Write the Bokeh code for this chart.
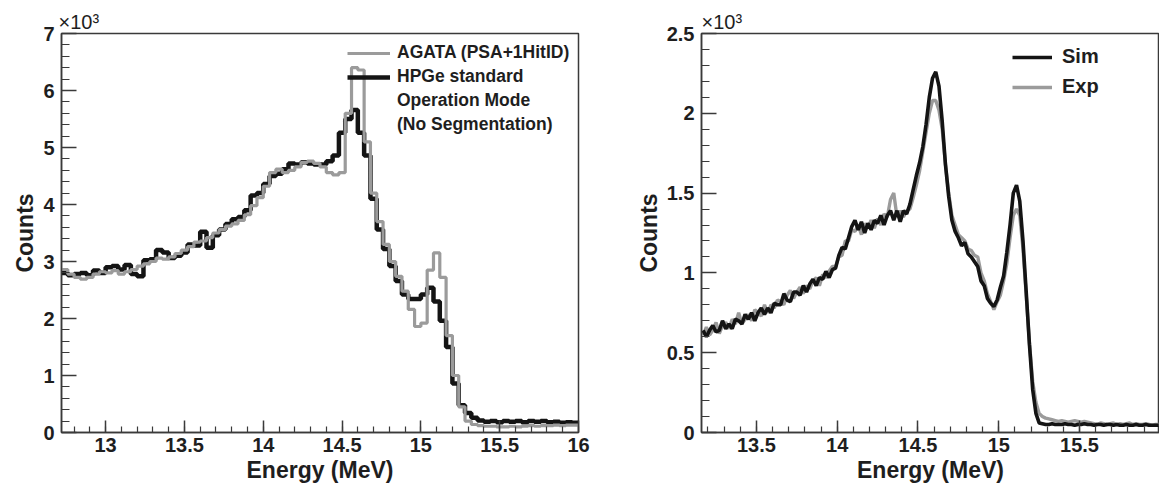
import numpy as np
from bokeh.plotting import figure
from bokeh.layouts import row
from bokeh.models import FixedTicker, Legend, LegendItem, Range1d
from bokeh.embed import file_html
from bokeh.resources import INLINE

# ---------------- data (counts in units of 10^3) ----------------
# Left panel: histograms, bins of 0.04 MeV starting at 12.72 MeV
left_bin_start = 12.72
left_bin_width = 0.04
agata_k = [2.86, 2.78, 2.72, 2.69, 2.72, 2.78, 2.82, 2.80, 2.84, 2.78,
           2.82, 2.86, 2.92, 2.96, 3.00, 3.06, 3.04, 3.08, 3.14, 3.20,
           3.26, 3.34, 3.36, 3.42, 3.50, 3.56, 3.62, 3.66, 3.72, 3.82,
           3.98, 4.12, 4.32, 4.56, 4.62, 4.56, 4.60, 4.66, 4.74, 4.76,
           4.72, 4.66, 4.56, 4.52, 4.56, 5.60, 6.40, 6.36, 5.10, 4.20,
           3.70, 3.30, 3.00, 2.74, 2.48, 2.16, 1.86, 1.92, 2.85, 3.15,
           2.72, 1.70, 1.00, 0.45, 0.20, 0.14, 0.12, 0.11, 0.11, 0.10,
           0.10, 0.11, 0.10, 0.11, 0.12, 0.11, 0.12, 0.12, 0.13, 0.12,
           0.13, 0.13]
hpge_k = [2.80, 2.76, 2.78, 2.80, 2.76, 2.84, 2.80, 2.90, 2.92, 2.86,
          2.94, 2.78, 2.74, 3.02, 3.04, 3.20, 3.16, 3.06, 3.10, 3.16,
          3.30, 3.28, 3.52, 3.24, 3.46, 3.56, 3.66, 3.74, 3.78, 3.90,
          4.16, 4.20, 4.36, 4.50, 4.54, 4.62, 4.72, 4.70, 4.74, 4.72,
          4.70, 4.70, 4.76, 4.86, 5.26, 5.50, 5.66, 5.26, 4.86, 4.10,
          3.56, 3.22, 2.92, 2.66, 2.42, 2.34, 2.34, 2.42, 2.54, 2.30,
          1.96, 1.50, 0.86, 0.48, 0.34, 0.26, 0.21, 0.19, 0.20, 0.18,
          0.20, 0.19, 0.20, 0.18, 0.20, 0.19, 0.20, 0.18, 0.19, 0.17,
          0.18, 0.17]

# Right panel: spectra sampled every 0.02 MeV, first point at 13.17 MeV
right_first = 13.17
right_step = 0.02
sim_k = [0.64, 0.60, 0.64, 0.67, 0.63, 0.64, 0.70, 0.65, 0.68, 0.65,
         0.71, 0.70, 0.68, 0.74, 0.71, 0.75, 0.70, 0.75, 0.78, 0.74,
         0.78, 0.75, 0.81, 0.80, 0.80, 0.87, 0.83, 0.82, 0.88, 0.88,
         0.86, 0.92, 0.88, 0.93, 0.96, 0.92, 0.97, 0.96, 1.01, 0.97,
         1.02, 1.03, 1.11, 1.16, 1.15, 1.22, 1.29, 1.33, 1.27, 1.32,
         1.25, 1.31, 1.27, 1.33, 1.31, 1.36, 1.30, 1.36, 1.39, 1.33,
         1.39, 1.32, 1.39, 1.37, 1.43, 1.52, 1.61, 1.69, 1.79, 1.93,
         2.10, 2.22, 2.26, 2.17, 1.95, 1.68, 1.48, 1.33, 1.26, 1.22,
         1.17, 1.19, 1.12, 1.10, 1.07, 1.04, 0.95, 0.92, 0.84, 0.81,
         0.79, 0.83, 0.91, 0.98, 1.13, 1.30, 1.50, 1.55, 1.45, 1.20,
         0.88, 0.55, 0.27, 0.12, 0.06, 0.055, 0.05, 0.05, 0.055, 0.05,
         0.05, 0.05, 0.055, 0.05, 0.05, 0.045, 0.05, 0.05, 0.055, 0.05,
         0.05, 0.045, 0.05, 0.05, 0.045, 0.05, 0.05, 0.045, 0.05, 0.045,
         0.045, 0.05, 0.045, 0.045, 0.05, 0.045, 0.045, 0.05, 0.045, 0.045,
         0.045, 0.045]
exp_k = [0.61, 0.66, 0.61, 0.64, 0.69, 0.62, 0.67, 0.69, 0.65, 0.71,
         0.68, 0.75, 0.68, 0.71, 0.74, 0.70, 0.77, 0.75, 0.73, 0.80,
         0.75, 0.80, 0.78, 0.83, 0.82, 0.80, 0.86, 0.89, 0.84, 0.88,
         0.91, 0.87, 0.92, 0.90, 0.95, 0.97, 0.92, 0.99, 0.97, 1.01,
         1.04, 1.04, 1.10, 1.11, 1.20, 1.20, 1.27, 1.26, 1.30, 1.24,
         1.31, 1.28, 1.33, 1.28, 1.34, 1.30, 1.37, 1.35, 1.46, 1.50,
         1.35, 1.39, 1.35, 1.39, 1.40, 1.47, 1.55, 1.64, 1.76, 1.88,
         2.00, 2.08, 2.08, 2.02, 1.90, 1.68, 1.50, 1.36, 1.30, 1.24,
         1.22, 1.20, 1.15, 1.14, 1.11, 1.10, 1.00, 0.95, 0.87, 0.82,
         0.77, 0.82, 0.86, 0.95, 1.06, 1.22, 1.36, 1.40, 1.36, 1.15,
         0.86, 0.56, 0.32, 0.19, 0.12, 0.10, 0.09, 0.085, 0.08, 0.075,
         0.07, 0.075, 0.07, 0.065, 0.07, 0.075, 0.07, 0.065, 0.07, 0.065,
         0.06, 0.055, 0.05, 0.06, 0.055, 0.05, 0.055, 0.06, 0.05, 0.055,
         0.05, 0.055, 0.06, 0.05, 0.055, 0.05, 0.05, 0.055, 0.05, 0.045,
         0.05, 0.05]

left_xticks = [13, 13.5, 14, 14.5, 15, 15.5, 16]
left_xminor = [round(12.8 + 0.1 * i, 1) for i in range(33)]
left_yticks = [0, 1, 2, 3, 4, 5, 6, 7]
left_yminor = [round(0.2 * i, 1) for i in range(36)]
right_xticks = [13.5, 14, 14.5, 15, 15.5]
right_xminor = [round(13.2 + 0.1 * i, 1) for i in range(28)]
right_yticks = [0, 0.5, 1, 1.5, 2, 2.5]
right_yminor = [round(0.1 * i, 1) for i in range(26)]

FONT = "Liberation Sans"
TXT = "#1e1e1e"
FRAME = "#3a3a3a"
GRAY = "#9b9b9b"
BLACK = "#141414"


def style(p, xt, xm, yt, ym):
    p.xgrid.visible = False
    p.ygrid.visible = False
    p.outline_line_color = FRAME
    p.outline_line_width = 1.5
    p.background_fill_color = "white"
    p.border_fill_color = "white"
    p.xaxis.ticker = FixedTicker(ticks=xt, minor_ticks=xm)
    p.yaxis.ticker = FixedTicker(ticks=yt, minor_ticks=ym)
    for ax in p.xaxis + p.yaxis:
        ax.axis_line_color = FRAME
        ax.axis_line_width = 1.5
        ax.major_tick_line_color = FRAME
        ax.minor_tick_line_color = FRAME
        ax.major_tick_line_width = 1.5
        ax.minor_tick_line_width = 1.2
        ax.major_tick_out = 0
        ax.minor_tick_out = 0
        ax.major_label_text_font = FONT
        ax.major_label_text_font_style = "bold"
        ax.major_label_text_font_size = "20px"
        ax.major_label_text_color = TXT
        ax.axis_label_text_font = FONT
        ax.axis_label_text_font_style = "bold"
        ax.axis_label_text_font_size = "23px"
        ax.axis_label_text_color = TXT
        ax.axis_label_standoff = 2
    p.xaxis.major_label_standoff = 5
    p.yaxis.major_label_standoff = 7
    p.xaxis.major_tick_in = 12
    p.xaxis.minor_tick_in = 6
    p.yaxis.major_tick_in = 15
    p.yaxis.minor_tick_in = 8
    p.xaxis.axis_label = "Energy (MeV)"
    p.yaxis.axis_label = "Counts"
    p.title.align = "left"
    p.title.text_font = FONT
    p.title.text_font_style = "normal"
    p.title.text_font_size = "20px"
    p.title.text_color = TXT
    p.title.standoff = 2


# ---------------- left panel ----------------
p1 = figure(width=632, height=490, title="\u00d710\u00b3",
            x_range=Range1d(12.72, 16.0), y_range=Range1d(0, 7),
            min_border_left=61, min_border_right=54,
            min_border_top=33, min_border_bottom=58,
            toolbar_location=None, output_backend="svg")
style(p1, left_xticks, left_xminor, left_yticks, left_yminor)
p1.title.offset = -3

edges_l = left_bin_start + left_bin_width * np.arange(len(hpge_k) + 1)
r_hpge = p1.step(edges_l, list(hpge_k) + [hpge_k[-1]], mode="after",
                 line_color=BLACK, line_width=4.5)
edges_a = left_bin_start + left_bin_width * np.arange(len(agata_k) + 1)
r_agata = p1.step(edges_a, list(agata_k) + [agata_k[-1]], mode="after",
                  line_color=GRAY, line_width=3.2)

leg1 = Legend(items=[
    LegendItem(label="AGATA (PSA+1HitID)", renderers=[r_agata]),
    LegendItem(label="HPGe standard", renderers=[r_hpge]),
    LegendItem(label="Operation Mode", renderers=[]),
    LegendItem(label="(No Segmentation)", renderers=[]),
], location=(286, 297))
p1.add_layout(leg1)

# ---------------- right panel ----------------
p2 = figure(width=527, height=490, title="\u00d710\u00b3",
            x_range=Range1d(13.16, 15.995), y_range=Range1d(0, 2.5),
            min_border_left=64, min_border_right=0,
            min_border_top=31, min_border_bottom=58,
            toolbar_location=None, output_backend="svg")
style(p2, right_xticks, right_xminor, right_yticks, right_yminor)
p2.title.offset = 0

xe = right_first + right_step * np.arange(len(exp_k))
xs = right_first + right_step * np.arange(len(sim_k))
r_exp = p2.line(xe, exp_k, line_color=GRAY, line_width=3.4)
r_sim = p2.line(xs, sim_k, line_color=BLACK, line_width=3.6)
leg2 = Legend(items=[
    LegendItem(label="Sim", renderers=[r_sim]),
    LegendItem(label="Exp", renderers=[r_exp]),
], location=(311, 334))
p2.add_layout(leg2)

for lg, fs, gw, gh, st, sp in ((leg1, "17.5px", 43, 20, 7, 3), (leg2, "20px", 40, 22, 10, 7)):
    lg.label_text_font = FONT
    lg.label_text_font_style = "bold"
    lg.label_text_font_size = fs
    lg.label_text_color = TXT
    lg.glyph_width = gw
    lg.glyph_height = gh
    lg.label_height = gh
    lg.label_standoff = st
    lg.spacing = sp
    lg.padding = 0
    lg.margin = 0
    lg.border_line_alpha = 0
    lg.background_fill_alpha = 0

layout = row(p1, p2)
open("out.html", "w").write(file_html(layout, INLINE))
